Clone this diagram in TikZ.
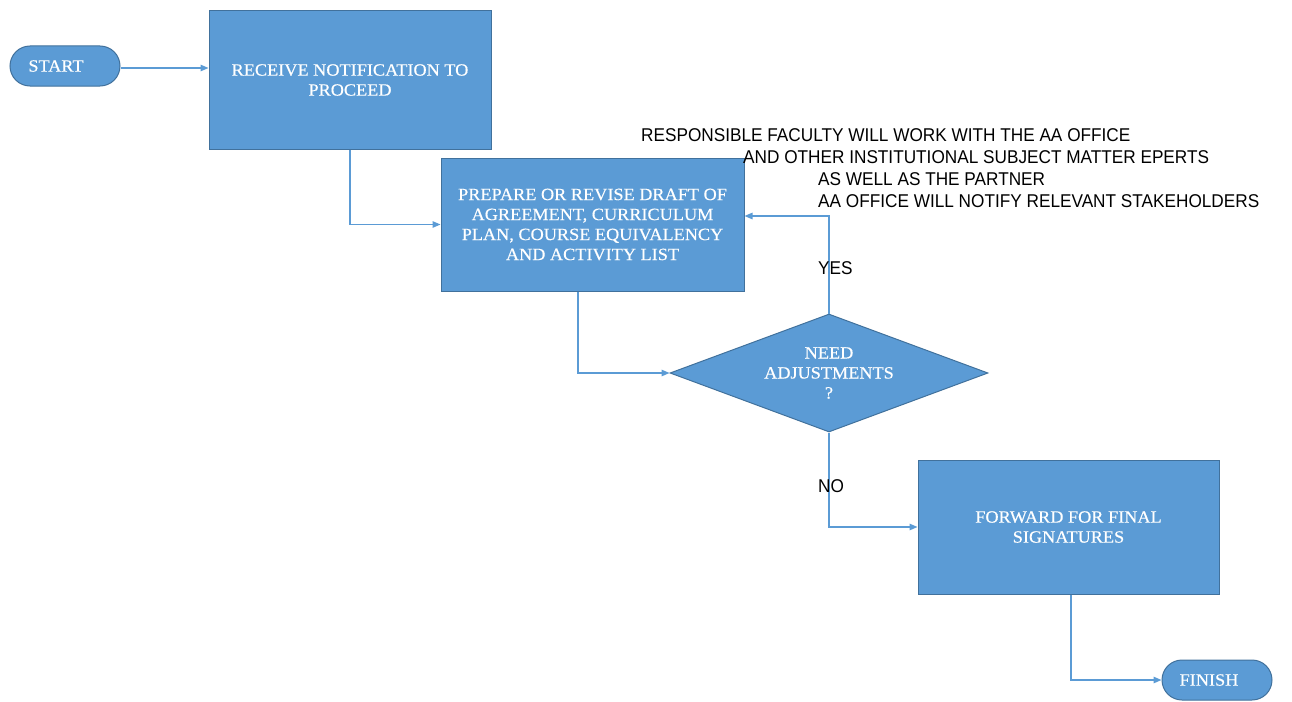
\documentclass[tikz,border=0pt]{standalone}
\usepackage{fontspec}
\setmainfont[FakeStretch=1.06,FakeBold=0.4]{Liberation Serif}
\newfontfamily\notefont[FakeStretch=0.93]{Liberation Sans}
\usetikzlibrary{shapes.geometric,arrows.meta}

\definecolor{boxfill}{HTML}{5B9BD5}
\definecolor{boxline}{HTML}{41719C}
\definecolor{flowline}{HTML}{5B9BD5}

\begin{document}
\begin{tikzpicture}[x=1pt,y=-1pt,
  boxtext/.style={text=white, font=\fontsize{17.2}{20}\selectfont, align=center},
  stepbox/.style={rectangle, fill=boxfill, draw=boxline, line width=1pt, inner sep=0pt, boxtext},
  terminal/.style={rectangle, rounded corners=20pt, fill=boxfill, draw=boxline, line width=1pt,
    minimum width=110pt, minimum height=40pt, inner sep=0pt, boxtext},
  decision/.style={diamond, shape aspect=2.7, fill=boxfill, draw=boxline, line width=1pt,
    minimum width=318pt, minimum height=118pt, inner sep=0pt, boxtext},
  flow/.style={draw=flowline, line width=1.3pt, -{Triangle[length=8pt,width=6.5pt]}},
  note/.style={font=\notefont\fontsize{18.5}{20}\selectfont, text=black, inner sep=0pt, anchor=west}]

\useasboundingbox (0,0) rectangle (1292,701);

% process steps
\node[terminal] (start) at (65,66) {\hspace*{-18pt}START};
\node[stepbox, minimum width=282pt, minimum height=138pt] (receive) at (350,80)
  {RECEIVE NOTIFICATION TO\\PROCEED};
\node[stepbox, minimum width=303pt, minimum height=133pt] (draft) at (592.5,224.5)
  {PREPARE OR REVISE DRAFT OF\\AGREEMENT, CURRICULUM\\PLAN, COURSE EQUIVALENCY\\AND ACTIVITY LIST};
\node[decision] (adjust) at (829,373) {NEED\\ADJUSTMENTS\\?};
\node[stepbox, minimum width=301pt, minimum height=134pt] (forward) at (1068.5,527)
  {FORWARD FOR FINAL\\SIGNATURES};
\node[terminal] (finish) at (1217,680) {\hspace*{-16pt}FINISH};

% explanatory notes
\node[note] (note1) at (641,135) {RESPONSIBLE FACULTY WILL WORK WITH THE AA OFFICE};
\node[note] (note2) at (743,157) {AND OTHER INSTITUTIONAL SUBJECT MATTER EPERTS};
\node[note] (note3) at (818,179) {AS WELL AS THE PARTNER};
\node[note] (note4) at (818,201) {AA OFFICE WILL NOTIFY RELEVANT STAKEHOLDERS};

% connectors
\coordinate (startout) at ([yshift=-2pt]start.east);
\draw[flow] (startout) -- (receive.west |- startout);
\draw[flow] (receive.south) |- (draft.west);
\draw[flow] ([xshift=-14.5pt]draft.south) |- (adjust.west);
\draw[flow] (adjust.north) |- ([yshift=8.5pt]draft.east);
\draw[flow] (adjust.south) |- (forward.west);
\draw[flow] ([xshift=2.5pt]forward.south) |- (finish.west);

% branch labels
\node[note] (yes) at (818,268) {YES};
\node[note] (no) at (818,486) {NO};
\end{tikzpicture}
\end{document}
